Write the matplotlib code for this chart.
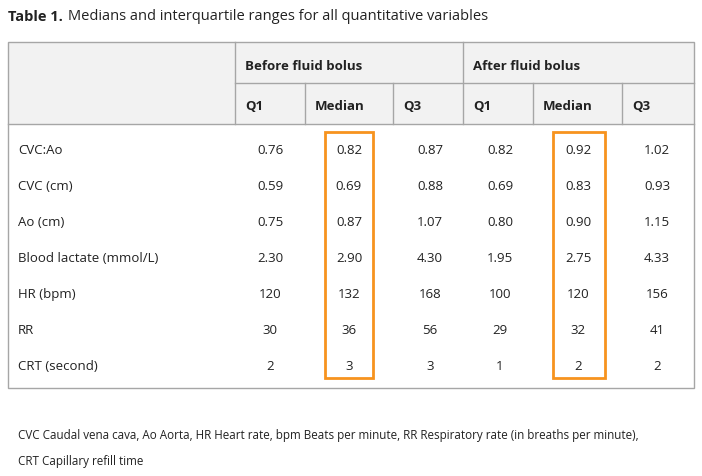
import matplotlib.pyplot as plt
from matplotlib.patches import Rectangle

plt.rcParams['font.family'] = ['Open Sans', 'DejaVu Sans']

row_labels = ["CVC:Ao", "CVC (cm)", "Ao (cm)", "Blood lactate (mmol/L)", "HR (bpm)", "RR", "CRT (second)"]
before_q1 = ["0.76", "0.59", "0.75", "2.30", "120", "30", "2"]
before_med = ["0.82", "0.69", "0.87", "2.90", "132", "36", "3"]
before_q3 = ["0.87", "0.88", "1.07", "4.30", "168", "56", "3"]
after_q1 = ["0.82", "0.69", "0.80", "1.95", "100", "29", "1"]
after_med = ["0.92", "0.83", "0.90", "2.75", "120", "32", "2"]
after_q3 = ["1.02", "0.93", "1.15", "4.33", "156", "41", "2"]
groups = ["Before fluid bolus", "After fluid bolus"]
sub_headers = ["Q1", "Median", "Q3", "Q1", "Median", "Q3"]
footnote = ["CVC Caudal vena cava, Ao Aorta, HR Heart rate, bpm Beats per minute, RR Respiratory rate (in breaths per minute),",
            "CRT Capillary refill time"]

W, H = 702, 477
fig = plt.figure(figsize=(W / 100, H / 100), dpi=100)
ax = fig.add_axes([0, 0, 1, 1])
ax.set_xlim(0, W)
ax.set_ylim(H, 0)
ax.axis("off")

line_c = "#a6a6a6"
txt_c = "#222222"
orange = "#f7931e"
dy = 2  # Open Sans sits a little high with va=center

# title
ax.text(8, 15 + dy, "Table 1.", fontsize=10.5, fontweight="bold", va="center", color=txt_c)
ax.text(68, 15 + dy, "Medians and interquartile ranges for all quantitative variables",
        fontsize=10.5, va="center", color=txt_c)

left, right, top, mid, head_bot, bot = 8, 694, 43, 84, 125, 389
ax.add_patch(Rectangle((left, top), right - left, head_bot - top, facecolor="#f2f2f2", edgecolor="none"))
ax.add_patch(Rectangle((left, top), right - left, bot - top, facecolor="none", edgecolor=line_c, lw=1))
ax.plot([left, right], [head_bot, head_bot], color=line_c, lw=1)
ax.plot([235, right], [mid, mid], color=line_c, lw=1)
for x in (235, 463):
    ax.plot([x, x], [top, head_bot], color=line_c, lw=1)
for x in (305, 393, 533, 622):
    ax.plot([x, x], [mid, head_bot], color=line_c, lw=1)

ax.text(245, 64 + dy, groups[0], fontsize=9.5, fontweight="bold", va="center", color=txt_c)
ax.text(473, 64 + dy, groups[1], fontsize=9.5, fontweight="bold", va="center", color=txt_c)
sub_x = [245, 315, 403, 473, 543, 632]
for x, s in zip(sub_x, sub_headers):
    ax.text(x, 104 + dy, s, fontsize=9.5, fontweight="bold", va="center", color=txt_c)

col_x = [270, 349, 430, 500, 578, 657]
cols = [before_q1, before_med, before_q3, after_q1, after_med, after_q3]
for i, lab in enumerate(row_labels):
    y = 149 + 36 * i + dy
    ax.text(18, y, lab, fontsize=9.5, va="center", color=txt_c)
    for x, col in zip(col_x, cols):
        ax.text(x, y, col[i], fontsize=9.5, va="center", ha="center", color=txt_c)

for x0, x1 in ((325, 373), (553, 605)):
    ax.add_patch(Rectangle((x0, 133), x1 - x0, 246, facecolor="none", edgecolor=orange, lw=2))

ax.text(18, 434 + dy, footnote[0], fontsize=8.4, va="center", color=txt_c)
ax.text(18, 460 + dy, footnote[1], fontsize=8.4, va="center", color=txt_c)

fig.savefig("out.png", dpi=100)
